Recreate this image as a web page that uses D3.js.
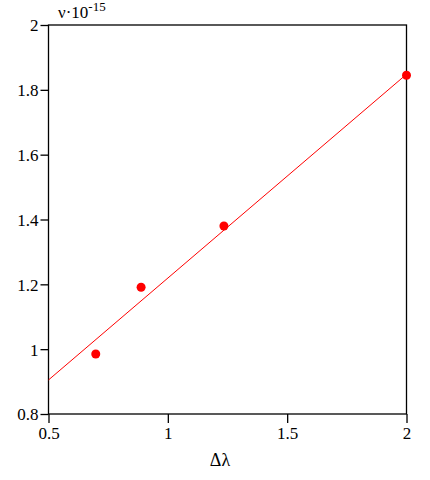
<!DOCTYPE html>
<html>
<head>
<meta charset="utf-8">
<script src="https://cdn.jsdelivr.net/npm/d3@7"></script>
<style>
  body { margin: 0; background: #fff; }
  svg { font-family: 'Liberation Serif', 'DejaVu Serif', serif; }
</style>
</head>
<body>
<svg id="chart" width="430" height="480" font-family="Liberation Serif"></svg>
<script>
// measured points
const dLambda = [0.698, 0.888, 1.235, 2.0];
const nu = [0.985, 1.191, 1.380, 1.845];
// fitted line, ends at x = 0.5 and x = 2
const fitX = [0.5, 2.0];
const fitY = [0.905, 1.848];
const xTicks = [0.5, 1, 1.5, 2];
const yTicks = [0.8, 1, 1.2, 1.4, 1.6, 1.8, 2];

const svg = d3.select('#chart');
const margin = { top: 25, right: 23.5, bottom: 66, left: 48.5 };
const width = +svg.attr('width');
const height = +svg.attr('height');

const x = d3.scaleLinear().domain([0.5, 2]).range([margin.left, width - margin.right]);
const y = d3.scaleLinear().domain([0.8, 2]).range([height - margin.bottom, margin.top]);

//frame
svg.append('rect')
  .attr('x', x(0.5)).attr('y', y(2))
  .attr('width', x(2) - x(0.5)).attr('height', y(0.8) - y(2))
  .attr('fill', 'none').attr('stroke', '#000').attr('stroke-width', 1.3);

//axes
const xAxis = svg.append('g')
  .attr('transform', `translate(0,${y(0.8)})`)
  .call(d3.axisBottom(x).tickValues(xTicks).tickFormat(d3.format('')).tickSize(9).tickPadding(4));
const yAxis = svg.append('g')
  .attr('transform', `translate(${x(0.5)},0)`)
  .call(d3.axisLeft(y).tickValues(yTicks).tickFormat(d3.format('')).tickSize(8).tickPadding(2));

[xAxis, yAxis].forEach(a => {
  a.attr('font-family', 'Liberation Serif').attr('font-size', 17);
  a.select('.domain').remove();
  a.selectAll('line').attr('stroke', '#000').attr('stroke-width', 1.3);
  a.selectAll('text').attr('fill', '#000');
});
yAxis.selectAll('text').attr('dy', '0.35em');

//fit line
svg.append('path')
  .attr('d', d3.line()(fitX.map((v, i) => [x(v), y(fitY[i])])))
  .attr('fill', 'none').attr('stroke', '#f00').attr('stroke-width', 1);

//points
svg.selectAll('circle.pt')
  .data(dLambda).enter().append('circle')
  .attr('class', 'pt')
  .attr('cx', d => x(d))
  .attr('cy', (d, i) => y(nu[i]))
  .attr('r', 4.5)
  .attr('fill', '#f00');

//labels
svg.append('text')
  .attr('x', 220).attr('y', 466)
  .attr('text-anchor', 'middle')
  .attr('font-size', 18)
  .text('Δλ');

const t = svg.append('text')
  .attr('x', 58).attr('y', 18)
  .attr('font-size', 17);
t.append('tspan').text('ν·10');
t.append('tspan').attr('dy', -7).attr('font-size', 13).text('-15');
</script>
</body>
</html>
